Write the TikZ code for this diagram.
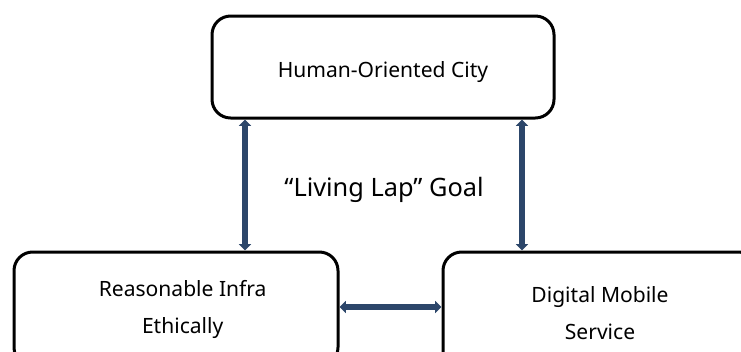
\documentclass[tikz,border=0pt]{standalone}
\usepackage{fontspec}
\setmainfont{Noto Sans}
\usetikzlibrary{arrows.meta}
\definecolor{arrblue}{RGB}{44,70,106}
\tikzset{
  box/.style={draw=black, line width=2.25pt, rounded corners=14pt, fill=white,
    align=center, inner sep=0pt, font=\fontsize{15.8}{27.75}\selectfont},
  link/.style={draw=arrblue, line width=4.8pt,
    {Triangle[length=4.8pt,width=9pt]}-{Triangle[length=4.8pt,width=9pt]}}
}
\begin{document}
\begin{tikzpicture}[x=0.75pt,y=-0.75pt]
\useasboundingbox (0,0) rectangle (741,351);
\clip (0,0) rectangle (741,351);
\fill[white] (0,0) rectangle (741,351);
\node[box, minimum width=342*0.75pt, minimum height=102*0.75pt] (top) at (383,67) {\raisebox{-3.5pt}[\height][\depth]{Human-Oriented City}};
\node[box, minimum width=324*0.75pt, minimum height=114*0.75pt] (left) at (176,309) {\hspace*{10pt}Reasonable Infra\\\hspace*{10pt}Ethically};
\node[box, minimum width=314*0.75pt, minimum height=122*0.75pt] (right) at (600,313) {Digital Mobile\\Service};
\node[font=\fontsize{19}{24}\selectfont] (goal) at (384,190) {“Living Lap” Goal};
\draw[link] (245,0 |- top.south) -- (245,0 |- left.north);
\draw[link] (522,0 |- top.south) -- (522,0 |- right.north);
\draw[link] (left.east |- 0,307) -- (right.west |- 0,307);
\end{tikzpicture}
\end{document}
